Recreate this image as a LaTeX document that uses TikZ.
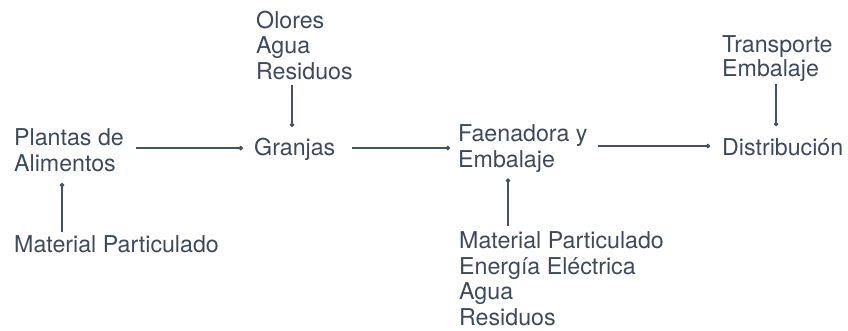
\documentclass[tikz,border=0pt]{standalone}
\usepackage{fontspec}
\setmainfont{TeX Gyre Heros}
\usetikzlibrary{arrows.meta}
\definecolor{ink}{HTML}{3E4A5B}
\definecolor{wire}{HTML}{465264}
\begin{document}
\begin{tikzpicture}[x=1pt,y=-1pt,
  lbl/.style={anchor=base west, inner sep=0pt, align=left, text=ink,
    font=\fontsize{23.2}{25.5}\selectfont},
  link/.style={draw=wire, line width=1.2pt, -{Circle[length=4.5pt]}}]
\useasboundingbox (0,0) rectangle (848,330);
% base anchor = baseline of the last line
\node[lbl] (plantas) at (14,171) {Plantas de\\Alimentos};
\node[lbl] (mp1) at (14,252) {Material Particulado};
\node[lbl] (granjas) at (254,155) {Granjas};
\node[lbl] (olores) at (256,79) {Olores\\Agua\\Residuos};
\node[lbl] (faen) at (458,167) {Faenadora y\\Embalaje};
\node[lbl] (mp2) at (459,325) {Material Particulado\\Energía Eléctrica\\Agua\\Residuos};
\node[lbl] (dist) at (722,155) {Distribución};
\node[lbl,font=\fontsize{23.2}{23.5}\selectfont] (transp) at (722,76) {Transporte\\Embalaje};

\draw[link] ([xshift=12pt]plantas.east |- 0,148) -- ([xshift=-11pt]granjas.west |- 0,148);
\draw[link] ([xshift=16pt]granjas.east |- 0,148) -- ([xshift=-8pt]faen.west |- 0,148);
\draw[link] ([xshift=10pt]faen.east |- 0,146) -- ([xshift=-12pt]dist.west |- 0,146);
\draw[link] (olores.south west |- 0,85) ++(36,0) -- ++(0,42);
\draw[link] (mp1.north west) ++(48,-3) -- ++(0,-49);
\draw[link] (mp2.north west) ++(49,-5) -- ++(0,-48);
\draw[link] (transp.south west) ++(54,3) -- ++(0,42);
\end{tikzpicture}
\end{document}
